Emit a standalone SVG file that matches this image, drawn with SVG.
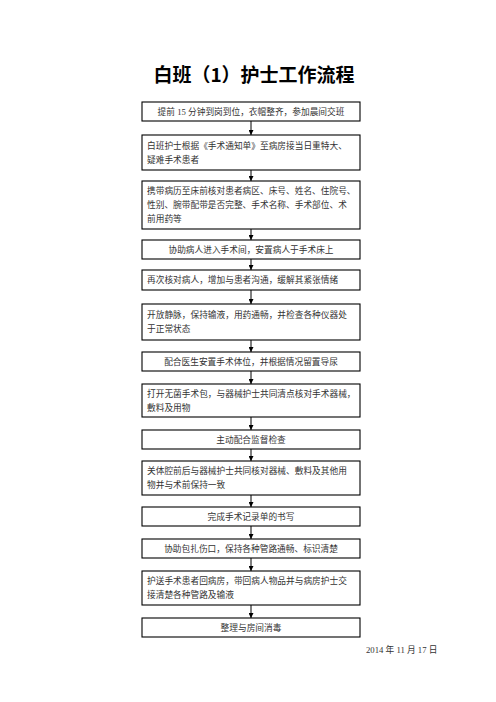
<svg xmlns="http://www.w3.org/2000/svg" width="496" height="702" viewBox="0 0 496 702">
<style>
.bg{fill:#fff}
.box rect{fill:#fff;stroke:#000;stroke-width:1.1}
.t{font-family:"Liberation Serif","Noto Sans CJK SC",serif;font-size:8.7px;fill:#333;dominant-baseline:central}
.c{text-anchor:middle}
.title{font-family:"Noto Sans CJK SC",sans-serif;font-size:19px;font-weight:bold;fill:#000;text-anchor:middle;dominant-baseline:central}
.conn line{stroke:#000;stroke-width:1}
</style>
<defs>
<marker id="ah" viewBox="0 0 10 10" refX="10" refY="5" markerWidth="5" markerHeight="5" markerUnits="userSpaceOnUse" orient="auto">
<path d="M0,0 L10,5 L0,10 z" fill="#000"/>
</marker>
</defs>
<rect class="bg" x="0" y="0" width="496" height="702"/>
<text class="title" x="254" y="73">白班（1）护士工作流程</text>

<g id="n1" class="box"><rect x="142" y="102" width="218" height="19"/><text class="t c" x="251" y="111.5">提前 15 分钟到岗到位，衣帽整齐，参加晨间交班</text></g>
<g id="n2" class="box"><rect x="142" y="135" width="218" height="35"/><text class="t" x="147" y="145.5">白班护士根据《手术通知单》至病房接当日重特大、</text><text class="t" x="147" y="159.5">疑难手术患者</text></g>
<g id="n3" class="box"><rect x="142" y="181" width="218" height="48"/><text class="t" x="147" y="191">携带病历至床前核对患者病区、床号、姓名、住院号、</text><text class="t" x="147" y="205">性别、腕带配带是否完整、手术名称、手术部位、术</text><text class="t" x="147" y="219">前用药等</text></g>
<g id="n4" class="box"><rect x="142" y="240" width="218" height="19"/><text class="t c" x="251" y="249.5">协助病人进入手术间，安置病人于手术床上</text></g>
<g id="n5" class="box"><rect x="142" y="270" width="218" height="20"/><text class="t" x="147" y="280">再次核对病人，增加与患者沟通，缓解其紧张情绪</text></g>
<g id="n6" class="box"><rect x="142" y="304" width="218" height="36"/><text class="t" x="147" y="315">开放静脉，保持输液，用药通畅，并检查各种仪器处</text><text class="t" x="147" y="329">于正常状态</text></g>
<g id="n7" class="box"><rect x="142" y="352" width="218" height="19"/><text class="t c" x="251" y="361.5">配合医生安置手术体位，并根据情况留置导尿</text></g>
<g id="n8" class="box"><rect x="142" y="384" width="218" height="33"/><text class="t" x="147" y="394">打开无菌手术包，与器械护士共同清点核对手术器械，</text><text class="t" x="147" y="408">敷料及用物</text></g>
<g id="n9" class="box"><rect x="142" y="430" width="218" height="19"/><text class="t c" x="251" y="439.5">主动配合监督检查</text></g>
<g id="n10" class="box"><rect x="142" y="461" width="218" height="34"/><text class="t" x="147" y="471">关体腔前后与器械护士共同核对器械、敷料及其他用</text><text class="t" x="147" y="485">物并与术前保持一致</text></g>
<g id="n11" class="box"><rect x="142" y="507" width="218" height="19"/><text class="t c" x="251" y="516.5">完成手术记录单的书写</text></g>
<g id="n12" class="box"><rect x="142" y="539" width="218" height="19"/><text class="t c" x="251" y="548.5">协助包扎伤口，保持各种管路通畅、标识清楚</text></g>
<g id="n13" class="box"><rect x="142" y="571" width="218" height="34"/><text class="t" x="147" y="581">护送手术患者回病房，带回病人物品并与病房护士交</text><text class="t" x="147" y="595">接清楚各种管路及输液</text></g>
<g id="n14" class="box"><rect x="142" y="618" width="218" height="19"/><text class="t c" x="251" y="627.5">整理与房间消毒</text></g>

<g class="conn">
<line x1="251" y1="121" x2="251" y2="135" marker-end="url(#ah)"/>
<line x1="251" y1="170" x2="251" y2="181" marker-end="url(#ah)"/>
<line x1="251" y1="229" x2="251" y2="240" marker-end="url(#ah)"/>
<line x1="251" y1="259" x2="251" y2="270" marker-end="url(#ah)"/>
<line x1="251" y1="290" x2="251" y2="304" marker-end="url(#ah)"/>
<line x1="251" y1="340" x2="251" y2="352" marker-end="url(#ah)"/>
<line x1="251" y1="371" x2="251" y2="384" marker-end="url(#ah)"/>
<line x1="251" y1="417" x2="251" y2="430" marker-end="url(#ah)"/>
<line x1="251" y1="449" x2="251" y2="461" marker-end="url(#ah)"/>
<line x1="251" y1="495" x2="251" y2="507" marker-end="url(#ah)"/>
<line x1="251" y1="526" x2="251" y2="539" marker-end="url(#ah)"/>
<line x1="251" y1="558" x2="251" y2="571" marker-end="url(#ah)"/>
<line x1="251" y1="605" x2="251" y2="618" marker-end="url(#ah)"/>
</g>

<text class="t" x="366" y="650">2014 年 11 月 17 日</text>
</svg>
